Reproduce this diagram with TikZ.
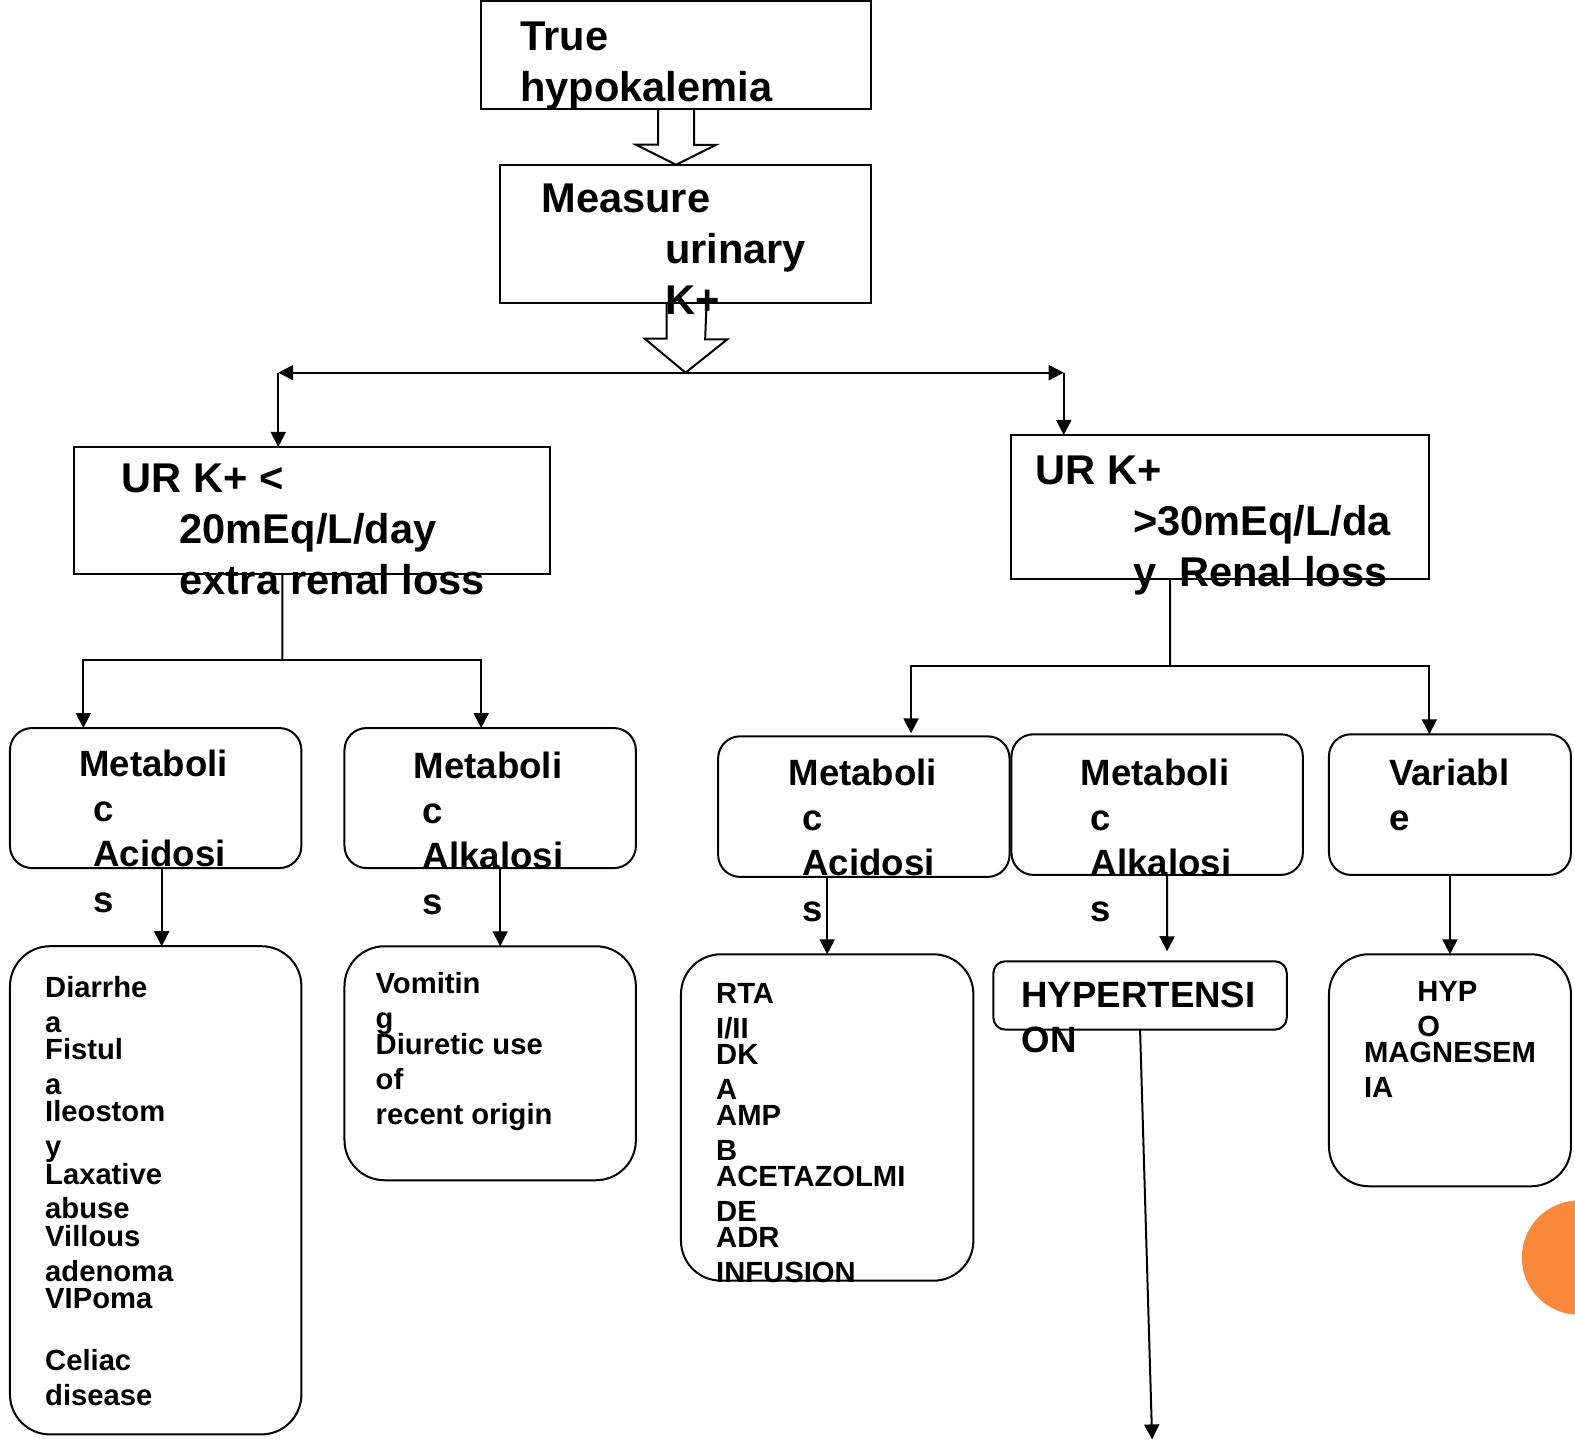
\documentclass[tikz,border=0pt]{standalone}
\usepackage{fontspec}
\setmainfont{Liberation Sans}
\usetikzlibrary{arrows.meta}
\definecolor{dotorange}{RGB}{250,137,60}

\newcommand{\txtlines}[1]{\begin{tabular}[t]{@{}l@{}}#1\end{tabular}}

\tikzset{
	box/.style={draw=black, shape=rectangle, line width=1pt, inner sep=0pt, outer sep=0pt},
	roundbox/.style={box, rounded corners=#1},
	headtxt/.style={anchor=base west, inner sep=0pt, font=\fontsize{20.8}{25.5}\selectfont\bfseries},
	midtxt/.style={anchor=base west, inner sep=0pt, font=\fontsize{18.3}{22.6}\selectfont\bfseries},
	listtxt/.style={anchor=base west, inner sep=0pt, font=\fontsize{14.6}{17.4}\selectfont\bfseries}
}

\begin{document}
\begin{tikzpicture}[x=0.50225pt, y=-0.50225pt, line width=1pt, >={Triangle[length=7.5pt,width=7.5pt]}]
	\useasboundingbox (0,0) rectangle (1568,1434);

	% boxes
	\node[box, minimum width=194.9pt, minimum height=54.2pt] (true) at (673,55) {};
	\node[box, minimum width=185.3pt, minimum height=69.3pt] (measure) at (682.5,233) {};
	\node[box, minimum width=238.1pt, minimum height=63.3pt] (lowur) at (311,508) {};
	\node[box, minimum width=209.4pt, minimum height=71.8pt] (highur) at (1214.5,504.5) {};

	\node[roundbox=11pt, minimum width=145.7pt, minimum height=70pt] (lacid) at (155,794.5) {};
	\node[roundbox=11pt, minimum width=145.7pt, minimum height=70pt] (lalk) at (488,794.5) {};
	\node[roundbox=11pt, minimum width=145.7pt, minimum height=70.3pt] (racid) at (860,803) {};
	\node[roundbox=11pt, minimum width=145.7pt, minimum height=70.3pt] (ralk) at (1152,801) {};
	\node[roundbox=11pt, minimum width=121pt, minimum height=70.3pt] (var) at (1443.5,801) {};

	\node[roundbox=20pt, minimum width=145.7pt, minimum height=244.1pt] (llist) at (155,1185) {};
	\node[roundbox=20pt, minimum width=145.7pt, minimum height=117pt] (vomit) at (488,1058.5) {};
	\node[roundbox=20pt, minimum width=146.2pt, minimum height=163.2pt] (rlist) at (823.5,1112.5) {};
	\node[roundbox=6pt, minimum width=146.7pt, minimum height=34.2pt] (htn) at (1135,991) {};
	\node[roundbox=20pt, minimum width=121pt, minimum height=116pt] (hypomg) at (1443.5,1065.5) {};

	\fill[dotorange] (1572,1252) circle (28.6pt);

	% block arrows
	\draw ([xshift=-9pt]true.south) -- ++(0,-17.6pt) -- ++(-11pt,0) -- (true.south |- measure.north) -- ++(20pt,10pt) -- ++(-11pt,0) -- ([xshift=9pt]true.south);
	\coordinate (lcorner) at (277,371);
	\coordinate (rcorner) at (1059,371);
	\draw ([xshift=-9.5pt]measure.south) -- ++(0,-17.6pt) -- ++(-11pt,0) -- (measure.south |- lcorner) -- ++(20.8pt,16.6pt) -- ++(-11pt,0) -- ([xshift=10.5pt]measure.south);

	% connectors
	\draw[<->] (lcorner) -- (rcorner);
	\draw[->] (lcorner) -- (lcorner |- lowur.north);
	\draw[->] (rcorner) -- (rcorner |- highur.north);

	\coordinate (lsplit) at (281,657);
	\draw ([xshift=-15pt]lowur.south) -- (lsplit);
	\draw[->] (lsplit) -| ([xshift=-36.2pt]lacid.north);
	\draw[->] (lsplit) -| ([xshift=-4.5pt]lalk.north);

	\coordinate (rsplit) at (1165,663);
	\draw ([xshift=-24.9pt]highur.south) -- (rsplit);
	\draw[->] (rsplit) -| ([xshift=23.6pt,yshift=1.5pt]racid.north);
	\draw[->] (rsplit) -| ([xshift=-10.3pt]var.north);

	\draw[->] ([xshift=3pt]lacid.south) -- ([xshift=3pt]llist.north);
	\draw[->] ([xshift=5pt]lalk.south) -- ([xshift=5pt]vomit.north);
	\draw[->] (racid.south -| rlist.north) -- (rlist.north);
	\draw[->] ([xshift=5pt]ralk.south) -- ([xshift=13.5pt,yshift=5pt]htn.north);
	\draw[->] (var.south -| hypomg.north) -- (hypomg.north);
	\coordinate (htnend) at (1147,1433);
	\draw[->] (htn.south) -- (htnend);

	% texts
	\node[headtxt] (t_true) at (517,50) {\txtlines{True\\hypokalemia}};
	\node[headtxt] (t_measure) at (538,212) {\txtlines{Measure\\\hspace*{61.8pt}urinary\\\hspace*{61.8pt}K+}};
	\node[headtxt] (t_lowur) at (120,490) {\txtlines{UR K+ <\\\hspace*{29.1pt}20mEq/L/day\\\hspace*{29.1pt}extra renal loss}};
	\node[headtxt] (t_highur) at (1030,482) {\txtlines{UR K+\\\hspace*{48.7pt}>30mEq/L/da\\\hspace*{48.7pt}y\ \ Renal loss}};

	\node[midtxt] (t_lacid) at (78,773) {\txtlines{Metaboli\\\hspace*{7pt}c\\\hspace*{7pt}Acidosi\\\hspace*{7pt}s}};
	\node[midtxt] (t_lalk) at (411,775) {\txtlines{Metaboli\\\hspace*{4.5pt}c\\\hspace*{4.5pt}Alkalosi\\\hspace*{4.5pt}s}};
	\node[midtxt] (t_racid) at (784,782) {\txtlines{Metaboli\\\hspace*{7pt}c\\\hspace*{7pt}Acidosi\\\hspace*{7pt}s}};
	\node[midtxt] (t_ralk) at (1075,782) {\txtlines{Metaboli\\\hspace*{5pt}c\\\hspace*{5pt}Alkalosi\\\hspace*{5pt}s}};
	\node[midtxt] (t_var) at (1382,782) {\txtlines{Variabl\\e}};
	\node[midtxt] (t_htn) at (1016,1003) {\txtlines{HYPERTENSI\\ON}};

	\node[listtxt] (t_llist) at (44,993) {\txtlines{Diarrhe\\a\\[-3.7pt]Fistul\\a\\[-3.7pt]Ileostom\\y\\[-3.7pt]Laxative\\abuse\\[-3.7pt]Villous\\adenoma\\[-3.7pt]VIPoma\\[13.6pt]Celiac\\disease}};
	\node[listtxt] (t_vomit) at (373,989) {\txtlines{Vomitin\\g\\[-4.3pt]Diuretic use\\of\\recent origin}};
	\node[listtxt] (t_rlist) at (712,999) {\txtlines{RTA\\I/II\\[-4.3pt]DK\\A\\[-4.3pt]AMP\\B\\[-4.3pt]ACETAZOLMI\\DE\\[-4.3pt]ADR\\INFUSION}};
	\node[listtxt] (t_hypomg) at (1357,997) {\txtlines{\hspace*{26.6pt}HYP\\\hspace*{26.6pt}O\\[-4.3pt]MAGNESEM\\IA}};
\end{tikzpicture}
\end{document}
